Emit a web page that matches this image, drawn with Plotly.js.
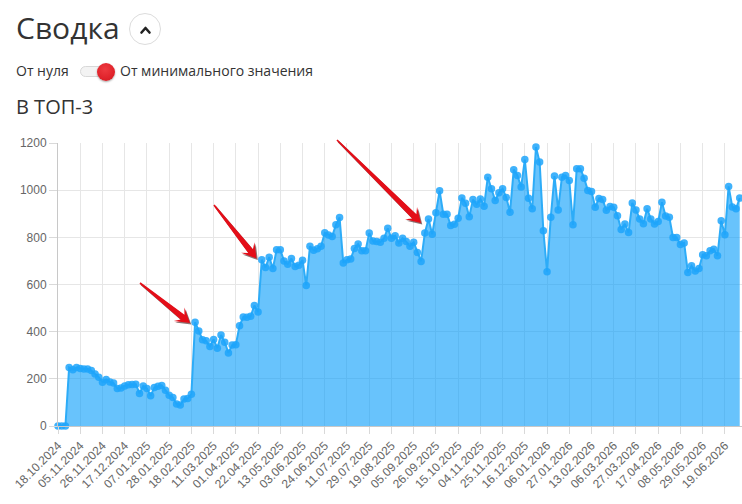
<!DOCTYPE html>
<html>
<head>
<meta charset="utf-8">
<script src="https://cdn.plot.ly/plotly-3.0.1.min.js"></script>
<style>
  html, body { margin:0; padding:0; background:#fff; }
  #wrap { position:relative; width:742px; height:504px; overflow:hidden; }
  #chart { position:absolute; left:0; top:0; width:742px; height:504px; }
  .t { position:absolute; font-family:"Open Sans", sans-serif; color:#333; line-height:1; white-space:nowrap; }
  #title { left:16px; top:13px; font-size:30px; }
  #btn { position:absolute; left:129px; top:12.5px; width:32px; height:32px; box-sizing:border-box; border:1px solid #dcdcdc; border-radius:50%; background:#fff; }
  #btn svg { position:absolute; left:0; top:0; }
  #lbl1 { left:16px; top:64.3px; font-size:14px; }
  #lbl2 { left:120px; top:64.3px; font-size:14px; }
  #track { position:absolute; left:80px; top:66px; width:31px; height:11px; box-sizing:border-box; border:1px solid #d8d8d8; border-radius:6px; background:#f3f3f3; }
  #knob { position:absolute; left:97px; top:62.5px; width:18px; height:18px; border-radius:50%; background:radial-gradient(circle at 45% 35%, #ee3a40 0%, #e0232b 60%, #c81820 100%); box-shadow:0 1px 2px rgba(0,0,0,0.35); }
  #sub { left:16px; top:97.2px; font-size:20px; }
</style>
</head>
<body>
<div id="wrap">
  <div id="chart"></div>
  <div class="t" id="title">Сводка</div>
  <div id="btn"><svg width="32" height="32" viewBox="0 0 32 32"><polyline points="11.5,18.5 15.5,14 19.5,18.5" fill="none" stroke="#222" stroke-width="2.6" stroke-linecap="round" stroke-linejoin="round"/></svg></div>
  <div class="t" id="lbl1">От нуля</div>
  <div id="track"></div>
  <div id="knob"></div>
  <div class="t" id="lbl2">От минимального значения</div>
  <div class="t" id="sub">В ТОП-3</div>
</div>
<script>
// Tick labels (one label every 6 points)
const tickLabels = [
  "18.10.2024","05.11.2024","26.11.2024","17.12.2024","07.01.2025","28.01.2025",
  "18.02.2025","11.03.2025","01.04.2025","22.04.2025","13.05.2025","03.06.2025",
  "24.06.2025","11.07.2025","29.07.2025","19.08.2025","05.09.2025","26.09.2025",
  "15.10.2025","04.11.2025","25.11.2025","16.12.2025","06.01.2026","27.01.2026",
  "13.02.2026","06.03.2026","27.03.2026","17.04.2026","08.05.2026","29.05.2026",
  "19.06.2026"
];
const labelStep = 6;

// "В ТОП-3" series values
const top3Values = [
  0,0,0,248,239,248,244,242,242,235,
  221,207,186,197,187,182,159,161,170,175,
  176,177,138,170,159,128,163,169,172,152,
  130,121,93,89,114,117,135,440,403,366,
  361,337,367,330,386,355,310,343,345,425,
  462,461,465,511,483,705,672,716,668,747,
  747,700,686,710,676,682,703,596,762,745,
  752,762,819,810,804,853,884,691,705,708,
  753,772,743,743,818,784,782,779,796,838,
  796,807,776,796,782,762,779,736,698,818,
  878,813,904,997,898,898,850,855,881,967,
  945,887,960,940,963,932,1055,1006,956,989,
  1006,969,906,1087,1062,1013,1130,966,921,1183,
  1119,828,654,885,1060,916,1055,1062,1041,853,
  1091,1091,1051,999,994,928,965,960,915,931,
  928,892,833,857,820,946,916,878,858,921,
  878,857,867,949,890,885,799,799,770,776,
  651,679,657,668,726,722,743,750,722,870,
  811,1016,929,921,967
];

const yTicks = [0,200,400,600,800,1000,1200];

const xIdx = top3Values.map((v, i) => i);
const tickVals = tickLabels.map((l, i) => i * labelStep);

// layout geometry
const W = 742, H = 504;
const M = {l:58, r:0, t:143, b:78};
const PW = W - M.l - M.r, PH = H - M.t - M.b;

function toPaper(px, py) {
  return [(px - M.l) / PW, (H - M.b - py) / PH];
}
function arrowPath(tx, ty, px, py, dx0, dy0) {
  dx0 = dx0 || 0; dy0 = dy0 || 0;
  tx += dx0; ty += dy0; px += dx0; py += dy0;
  const L = Math.hypot(px - tx, py - ty);
  const ux = (px - tx) / L, uy = (py - ty) / L;
  const nx = -uy, ny = ux;
  const headLen = 14, headHalf = 8.5, notch = 9.5, shaftEnd = 3, shaftStart = 0.8;
  const bx = px - ux * notch, by = py - uy * notch;
  const hx = px - ux * headLen, hy = py - uy * headLen;
  const pts = [
    [tx + nx * shaftStart, ty + ny * shaftStart],
    [bx + nx * shaftEnd, by + ny * shaftEnd],
    [hx + nx * headHalf, hy + ny * headHalf],
    [px, py],
    [hx - nx * headHalf, hy - ny * headHalf],
    [bx - nx * shaftEnd, by - ny * shaftEnd],
    [tx - nx * shaftStart, ty - ny * shaftStart]
  ].map(p => toPaper(p[0], p[1]));
  return "M" + pts.map(p => p[0].toFixed(5) + "," + p[1].toFixed(5)).join(" L") + " Z";
}
const arrows = [
  [140, 283, 190, 323],
  [214, 205, 256.5, 258.5],
  [337, 140, 421, 223]
];
const shapes = [];
arrows.forEach(a => {
  shapes.push({type:"path", xref:"paper", yref:"paper", path: arrowPath(a[0],a[1],a[2],a[3],1.3,1.6),
    fillcolor:"rgba(50,0,0,0.55)", line:{width:0}, layer:"above"});
  shapes.push({type:"path", xref:"paper", yref:"paper", path: arrowPath(a[0],a[1],a[2],a[3]),
    fillcolor:"rgb(228,14,24)", line:{width:0}, layer:"above"});
});

const trace = {
  x: xIdx,
  y: top3Values,
  type: "scatter",
  mode: "lines+markers",
  fill: "tozeroy",
  fillcolor: "rgba(3,155,250,0.6)",
  line: {color: "rgb(45,172,248)", width: 2},
  marker: {size: 7.5, color: "rgba(30,165,250,0.85)", line: {width: 0}},
  cliponaxis: false,
  hoverinfo: "skip"
};

const layout = {
  width: W, height: H,
  margin: M,
  paper_bgcolor: "#fff",
  plot_bgcolor: "#fff",
  showlegend: false,
  font: {family: "Liberation Sans, Arial, sans-serif", color: "#666", size: 12},
  xaxis: {
    type: "linear",
    range: [0, PW / 3.705],
    tickmode: "array",
    tickvals: tickVals,
    ticktext: tickLabels,
    tickangle: -45,
    ticks: "outside",
    ticklen: 7,
    tickcolor: "#d9d9d9",
    showgrid: true,
    gridcolor: "#e6e6e6",
    gridwidth: 1,
    zeroline: false,
    showline: true,
    linecolor: "#c8c8c8",
    linewidth: 1,
    tickfont: {size: 12, color: "#666"},
    fixedrange: true
  },
  yaxis: {
    range: [0, 1200],
    tickmode: "array",
    tickvals: yTicks,
    ticktext: yTicks.map(String),
    ticks: "outside",
    ticklen: 8,
    tickcolor: "#d9d9d9",
    showgrid: true,
    gridcolor: "#e6e6e6",
    zeroline: false,
    showline: true,
    linecolor: "#c8c8c8",
    linewidth: 1,
    tickfont: {size: 12, color: "#666"},
    fixedrange: true
  },
  shapes: shapes
};

Plotly.newPlot("chart", [trace], layout, {displayModeBar: false, staticPlot: true});
</script>
</body>
</html>
